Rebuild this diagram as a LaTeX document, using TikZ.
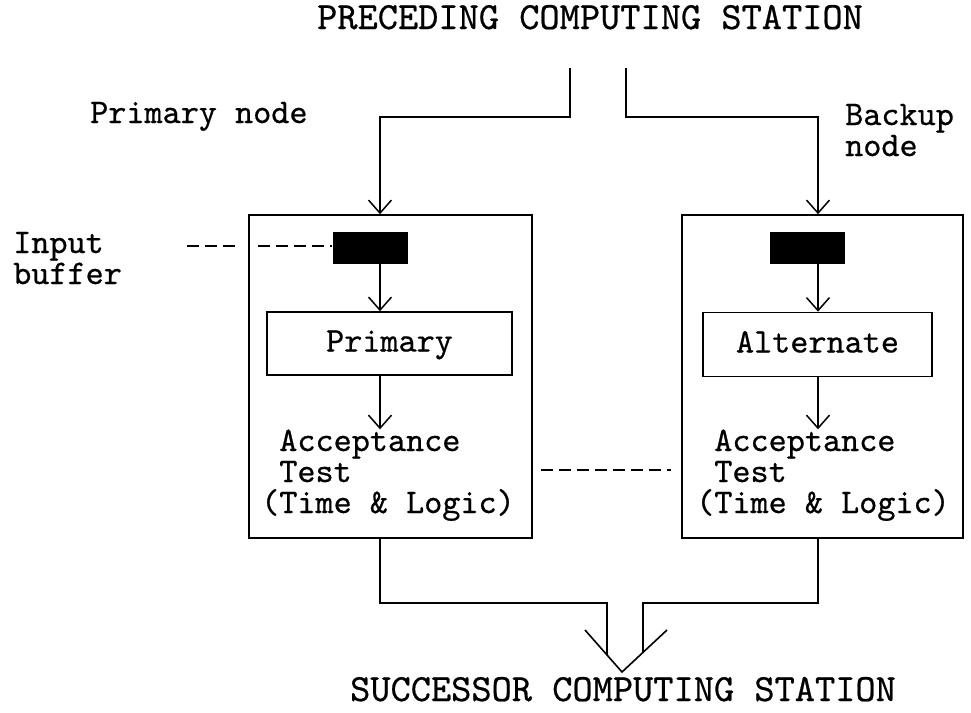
\documentclass[tikz,border=0pt]{standalone}
\usepackage{fontspec}
\setmonofont{lmmono10-regular.otf}[FakeBold=0.6]
\usetikzlibrary{arrows.meta}
\usetikzlibrary{calc}
\newcommand{\txtsize}{\fontsize{34.5}{31}\selectfont\ttfamily}
\newcommand{\hdrsize}{\fontsize{38.5}{40}\selectfont\ttfamily}
\newcommand{\colpx}{380}
\newcommand{\colbx}{818}
\newcommand{\feedy}{117}
\newcommand{\joiny}{603}
\newcommand{\tiey}{470}
\tikzset{
  flow/.style={line width=1.6pt,
    -{Straight Barb[length=13pt,width=23pt,line width=1.5pt]}},
  wire/.style={line width=1.6pt},
  leader/.style={line width=2.4pt,dash pattern=on 12pt off 6pt},
  unitbox/.style={draw,line width=1.6pt,inner sep=0pt},
  procbox/.style={draw,line width=1.6pt,inner sep=0pt,font=\txtsize,
    text height=23pt,text depth=7pt},
  buffer/.style={fill=black,minimum width=75pt,minimum height=32pt,inner sep=0pt},
  lbl/.style={anchor=base west,align=left,inner sep=0pt,font=\txtsize},
  hdr/.style={anchor=base,inner sep=0pt,font=\hdrsize},
}
\begin{document}
\begin{tikzpicture}[x=1pt,y=-1pt]
    \useasboundingbox (0,0) rectangle (971,712);

    \node (pre) at (590,29) [hdr] {PRECEDING COMPUTING STATION};
    \node (suc) at (623,701) [hdr] {SUCCESSOR COMPUTING STATION};

    % multi-line labels sit on the baseline of their last line
    \node (pnode) at (90,123) [lbl] {Primary node};
    \node (bnode) at (845,156) [lbl] {Backup\\node};
    \node (ibuf) at (13,284) [lbl] {Input\\buffer};

    % the two computing nodes
    \node (unitp) at (390.5,376.5)
      [unitbox,minimum width=283pt,minimum height=323pt] {};
    \node (unitb) at (822.5,376.5)
      [unitbox,minimum width=281pt,minimum height=323pt] {};

    \node (bufp) at (370,247.5) [buffer] {};
    \node (bufb) at (807,247.5) [buffer] {};
    \node (prim) at (389.5,343.5)
      [procbox,minimum width=245pt,minimum height=63pt] {Primary};
    \node (altn) at (817.5,344.5)
      [procbox,minimum width=229pt,minimum height=64pt] {Alternate};
    \node (accp) at (261,513) [lbl]
      {\hphantom{(}Acceptance\\\hphantom{(}Test\\(Time \& Logic)};
    \node (accb) at (696,513) [lbl]
      {\hphantom{(}Acceptance\\\hphantom{(}Test\\(Time \& Logic)};

    \coordinate (inp) at (570,68);
    \coordinate (inb) at (626,68);
    \coordinate (colp) at (\colpx,\feedy);
    \coordinate (colb) at (\colbx,\feedy);

    \draw[flow] (inp) |- (colp) -- (unitp.north -| colp);
    \draw[flow] (inb) |- (colb) -- (unitb.north -| colb);
    \draw[flow] (bufp.south -| colp) -- (prim.north -| colp);
    \draw[flow] (bufb.south -| colb) -- (altn.north -| colb);
    \draw[flow] (prim.south -| colp) -- (accp.north -| colp);
    \draw[flow] (altn.south -| colb) -- (accb.north -| colb);

    % dashed leaders
    \coordinate (lead) at (187,246);
    \coordinate (tie) at (0,\tiey);
    \draw[leader,shorten >=11pt] (lead) -- (lead -| unitp.west);
    \draw[leader,shorten <=10pt] (lead -| unitp.west) -- (lead -| bufp.west);
    \draw[leader,shorten <=8pt,shorten >=10pt]
      (unitp.east |- tie) -- (unitb.west |- tie);

    % merge into the successor
    \coordinate (joinp) at (607,\joiny);
    \coordinate (joinb) at (643,\joiny);
    \coordinate (barbl) at (585,630);
    \coordinate (tip) at (622,672);
    \coordinate (barbr) at (667,630);
    \draw[wire] (unitp.south -| colp) |- (joinp)
      -- ($(barbl)!0.595!(tip)$);
    \draw[wire] (unitb.south -| colb) |- (joinb)
      -- ($(tip)!0.467!(barbr)$);
    \draw[wire] (barbl) -- (tip) -- (barbr);
  \end{tikzpicture}
\end{document}
